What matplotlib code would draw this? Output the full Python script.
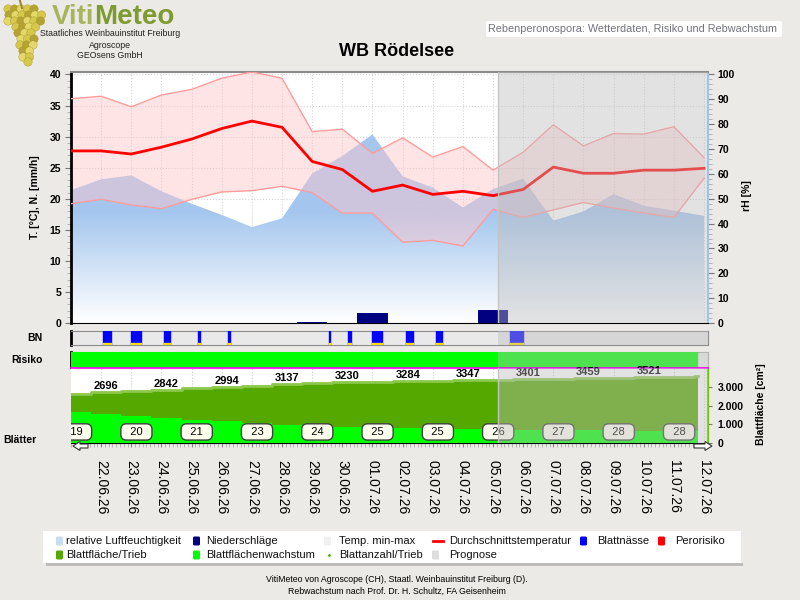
import numpy as np
import matplotlib
matplotlib.use('Agg')
from matplotlib import pyplot as plt
from matplotlib.colors import LinearSegmentedColormap
from matplotlib.patches import Rectangle, FancyBboxPatch, Circle, FancyArrow

plt.rcParams['font.family'] = ['Liberation Sans', 'DejaVu Sans']

# --- data (x = days after 21.06.26) ---
days = np.arange(22)
date_labels = ['22.06.26', '23.06.26', '24.06.26', '25.06.26', '26.06.26', '27.06.26',
               '28.06.26', '29.06.26', '30.06.26', '01.07.26', '02.07.26', '03.07.26',
               '04.07.26', '05.07.26', '06.07.26', '07.07.26', '08.07.26', '09.07.26',
               '10.07.26', '11.07.26', '12.07.26']

t_mean = [27.7, 27.7, 27.2, 28.3, 29.6, 31.3, 32.5, 31.5, 26.0, 24.7, 21.2,
          22.2, 20.7, 21.2, 20.5, 21.5, 25.1, 24.1, 24.1, 24.6, 24.6, 24.9]
t_max = [36.1, 36.5, 34.8, 36.7, 37.6, 39.4, 40.4, 39.4, 30.8, 31.2, 27.3,
         29.8, 26.7, 28.4, 24.6, 27.5, 31.9, 28.5, 30.5, 30.4, 31.6, 26.6]
t_min = [19.2, 19.9, 19.0, 18.4, 19.9, 21.1, 21.3, 22.0, 21.0, 17.7, 17.7,
         13.0, 13.3, 12.4, 18.3, 17.0, 18.2, 19.4, 18.5, 17.7, 17.0, 23.3]
rel_hum = [53.5, 57.8, 59.4, 53.0, 48.0, 43.5, 38.6, 42.1, 60.2, 67.2, 75.9,
           59.0, 54.5, 46.5, 53.9, 58.1, 41.2, 44.9, 51.9, 47.2, 45.2, 43.1]
precip = [0, 0, 0, 0, 0, 0, 0, 0, 0.15, 0, 1.6,
          0, 0, 0, 2.1, 0, 0, 0, 0, 0, 0, 0]

# leaf wetness periods (start, duration) in days
leaf_wet = [(1.06, 0.27), (1.99, 0.33), (3.08, 0.20), (4.21, 0.07), (5.21, 0.06),
            (8.56, 0.04), (9.19, 0.10), (9.98, 0.34), (11.11, 0.23), (12.11, 0.20),
            (14.56, 0.43)]
risk_end = 20.76
prognose_start = 14.16

leaf_area = [2620, 2696, 2770, 2842, 2918, 2994, 3066, 3137, 3184, 3230, 3257,
             3284, 3316, 3347, 3374, 3401, 3430, 3459, 3490, 3521, 3545, 3560]
leaf_growth = [1640, 1570, 1440, 1340, 1250, 1180, 1090, 985, 895, 865, 820,
               780, 750, 730, 720, 700, 690, 680, 670, 660, 650, 650]
leaf_count = [19, 20, 21, 23, 24, 25, 25, 26, 27, 28, 28]

XMAX = 21.13
BG = '#eceae6'
OVER = dict(color='#bcbcbc', alpha=0.42, lw=0, zorder=10)

fig = plt.figure(figsize=(8, 6), dpi=100, facecolor=BG)


def px_axes(x0, y0, x1, y1):
    return fig.add_axes([x0 / 800, 1 - y1 / 600, (x1 - x0) / 800, (y1 - y0) / 600])


# --- main weather panel ---
ax = px_axes(71, 72, 708, 323)
ax.set_facecolor('white')
ax.set_axisbelow(True)

hum = np.array(rel_hum) * 0.4
hum_poly = ax.fill_between(days, 0, hum, color='none', lw=0)
grad = np.clip(np.linspace(0, 40.4, 400) / 18.0, 0, 1)[:, None]
cmap_h = LinearSegmentedColormap.from_list('hum', ['#ffffff', '#a4c6ee'])
img = ax.imshow(grad, extent=[0, XMAX, 0, 40.4], origin='lower', aspect='auto',
                cmap=cmap_h, vmin=0, vmax=1, zorder=1)
img.set_clip_path(hum_poly.get_paths()[0], ax.transData)

ax.fill_between(days, t_min, t_max, color='#ffc4c9', alpha=0.45, lw=0, zorder=2)
ax.plot(days, t_max, color='#ff9c9c', lw=1, zorder=3)
ax.plot(days, t_min, color='#ff9c9c', lw=1, zorder=3)
ax.bar(days, precip, width=1.0, color='#000080', zorder=3)
ax.plot(days, t_mean, color='#ff0000', lw=2, zorder=4)
ax.axvspan(prognose_start, XMAX, **OVER)
ax.axvline(prognose_start, color='#c4c4c4', lw=1, zorder=10)

ax.set_xlim(0, XMAX)
ax.set_ylim(0, 40.4)
ax.set_xticks(days[1:])
ax.set_xticklabels([])
ax.tick_params(axis='x', length=0)
ax.set_yticks(range(0, 41, 5))
ax.set_yticklabels([str(v) for v in range(0, 41, 5)], fontweight='bold', fontsize=7.5)
ax.set_yticks(range(0, 41), minor=True)
ax.tick_params(axis='y', which='major', length=4, color='#777777', pad=3)
ax.tick_params(axis='y', which='minor', length=3, color='#aaaaaa')
ax.grid(True, ls=':', color='#d6d6d6', lw=0.8)
ax.spines['left'].set_linewidth(2)
ax.spines['left'].set_color('black')
ax.spines['top'].set_color('#8a8a8a')
ax.spines['top'].set_linewidth(1.5)
ax.spines['right'].set_visible(False)
ax.spines['bottom'].set_color('black')

sec = ax.secondary_yaxis('right', functions=(lambda t: t * 2.5, lambda r: r / 2.5))
sec.set_yticks(range(0, 101, 10))
sec.set_yticklabels([str(v) for v in range(0, 101, 10)], fontweight='bold', fontsize=7.5)
sec.set_yticks(range(0, 101, 2), minor=True)
sec.tick_params(which='major', length=4, color='#777777', pad=3)
sec.tick_params(which='minor', length=3, color='#aaaaaa')
sec.spines['right'].set_color('#9cc4ee')
sec.spines['right'].set_linewidth(1.5)

# --- leaf wetness strip ---
bn = px_axes(71, 331, 708, 345)
bn.set_facecolor('#e9e9e9')
bn.broken_barh(leaf_wet, (0, 1), color='#0000ff', zorder=3)
bn.broken_barh(leaf_wet, (0, 0.13), color='#ffe000', zorder=4)
bn.axvspan(prognose_start, XMAX, **OVER)
bn.set_xlim(0, XMAX)
bn.set_ylim(0, 1)
bn.set_xticks([])
bn.set_yticks([])
for s in bn.spines.values():
    s.set_color('#8c8c8c')
bn.spines['left'].set_color('black')
bn.spines['left'].set_linewidth(2)

# --- risk strip ---
rk = px_axes(71, 352, 708, 367)
rk.set_facecolor('#eeeeee')
rk.broken_barh([(0, risk_end)], (0, 1), color='#00ff00', zorder=3)
rk.axvspan(prognose_start, XMAX, **OVER)
rk.set_xlim(0, XMAX)
rk.set_ylim(0, 1)
rk.set_xticks([])
rk.set_yticks([])
for s in rk.spines.values():
    s.set_color('#b0b0b0')
rk.spines['left'].set_color('black')
rk.spines['left'].set_linewidth(2)

# --- leaf growth panel ---
lf = px_axes(71, 368, 708, 443)
lf.set_facecolor('white')
lf.set_axisbelow(True)
starts = np.clip(days - 0.33, 0, None)
xs = np.append(starts, 20.8)
area_s = np.append(leaf_area, leaf_area[-1])
growth_s = np.append(leaf_growth, leaf_growth[-1])
lf.fill_between(xs, 0, area_s, step='post', color='#55a800', lw=0, zorder=2)
lf.step(xs, area_s, where='post', color='#8cc84b', lw=2, zorder=2.5)
lf.fill_between(xs, 0, growth_s, step='post', color='#00ff00', lw=0, zorder=3)

for i in range(1, 20, 2):
    lf.text(i + 0.17, leaf_area[i] + 60, str(leaf_area[i]), ha='center', va='bottom',
            fontsize=8, fontweight='bold', zorder=6)

for k, n in enumerate(leaf_count):
    lf.text(2 * k + 0.17, 590, f'  {n}  ', ha='center', va='center', fontsize=8,
            zorder=6, clip_on=True,
            bbox=dict(boxstyle='round,pad=0.28,rounding_size=0.5', fc='#fffff0',
                      ec='#404040', lw=1))

lf.axvspan(prognose_start, XMAX, **OVER)
lf.axvline(prognose_start, color='#c4c4c4', lw=1, zorder=10)

lf.set_xlim(0, XMAX)
lf.set_ylim(0, 4000)
lf.set_xticks(days[1:])
lf.set_xticklabels(date_labels, rotation=-90, fontsize=10)
lf.set_xticks(np.arange(0, XMAX, 0.125), minor=True)
lf.tick_params(axis='x', which='major', length=3, color='#888888', pad=9)
lf.tick_params(axis='x', which='minor', length=3, color='#aaaaaa')
lf.grid(True, axis='x', ls=':', color='#cccccc', lw=0.8)
lf.yaxis.tick_right()
lf.set_yticks([0, 1000, 2000, 3000])
lf.set_yticklabels(['0', '1.000', '2.000', '3.000'], fontweight='bold', fontsize=7.5)
lf.tick_params(axis='y', length=3, color='#777777', pad=4)
lf.spines['top'].set_color('#ff00ff')
lf.spines['top'].set_linewidth(1.2)
lf.spines['right'].set_color('#66cc00')
lf.spines['right'].set_linewidth(1.5)
lf.spines['left'].set_visible(False)
lf.spines['bottom'].set_color('black')

# --- decorations in pixel coordinates ---
deco = fig.add_axes([0, 0, 1, 1])
deco.set_xlim(0, 800)
deco.set_ylim(600, 0)
deco.axis('off')

# grape cluster of the logo
deco.plot([20, 22], [1, 8], color='#9a8a30', lw=1.5)
rows = [(9, 4, 42), (15, 3, 45), (21, 4, 44), (27, 10, 42), (33, 14, 39),
        (39, 15, 38), (45, 16, 37), (51, 17, 35), (57, 19, 33), (62, 22, 29)]
for r, (yy, xa, xb) in enumerate(rows):
    for j, xx in enumerate(np.arange(xa + 4, xb - 2, 6.5)):
        col = ['#d6c84a', '#b4a232', '#e4d86a'][(r + j) % 3]
        deco.add_patch(Circle((xx + (r % 2) * 2, yy), 4.2, fc=col, ec='#a89a30', lw=0.3))

t1 = deco.text(52, 17, 'Viti', fontsize=20, fontweight='bold', color='#a9b45c',
               va='center', ha='left')
deco.annotate('Meteo', xy=(1, 0), xycoords=t1, va='bottom', ha='left',
              fontsize=20, fontweight='bold', color='#7d9b2f')
deco.text(110, 34, 'Staatliches Weinbauinstitut Freiburg', ha='center', va='center',
          fontsize=6.3, color='#222222')
deco.text(110, 45, 'Agroscope', ha='center', va='center', fontsize=6.3, color='#222222')
deco.text(110, 56, 'GEOsens GmbH', ha='center', va='center', fontsize=6.3, color='#222222')

deco.text(397, 52, 'WB Rödelsee', ha='center', va='center', fontsize=13, fontweight='bold')
deco.add_patch(FancyBboxPatch((486, 21), 296, 16, boxstyle='round,pad=0,rounding_size=2',
                              fc='white', ec='none'))
deco.text(633, 29.5, 'Rebenperonospora: Wetterdaten, Risiko und Rebwachstum',
          ha='center', va='center', fontsize=7.8, color='#72727e')

# axis labels
deco.text(35, 197, 'T. [°C], N. [mm/h]', rotation=90, ha='center', va='center',
          fontsize=7.5, fontweight='bold')
deco.text(747, 196, 'rH [%]', rotation=90, ha='center', va='center',
          fontsize=7.5, fontweight='bold')
deco.text(761, 404, 'Blattfläche [cm²]', rotation=90, ha='center', va='center',
          fontsize=7.5, fontweight='bold')
deco.text(43, 338, 'BN', ha='right', va='center', fontsize=7.5, fontweight='bold')
deco.text(43, 360, 'Risiko', ha='right', va='center', fontsize=7.5, fontweight='bold')
deco.text(3, 440, 'Blätter', ha='left', va='center', fontsize=7.5, fontweight='bold')

# axis end arrows
deco.add_patch(FancyArrow(88, 446, -15, 0, width=4, head_width=9, head_length=7,
                          length_includes_head=True, fc='white', ec='#333333', lw=0.8))
deco.add_patch(FancyArrow(694, 446, 18, 0, width=4, head_width=9, head_length=7,
                          length_includes_head=True, fc='white', ec='#333333', lw=0.8))

# legend
deco.add_patch(Rectangle((46, 563), 697, 3, fc='#a8a8a8', ec='none', alpha=0.7))
deco.add_patch(Rectangle((43, 531), 698, 32, fc='white', ec='none'))
legend_items = [
    (57, 541, 'box', '#c8dcf4', 'relative Luftfeuchtigkeit', 66),
    (194, 541, 'box', '#000080', 'Niederschläge', 206),
    (325, 541, 'box', '#f0f0f0', 'Temp. min-max', 339),
    (433, 541, 'line', '#ff0000', 'Durchschnittstemperatur', 449),
    (581, 541, 'box', '#0000ff', 'Blattnässe', 597),
    (659, 541, 'box', '#ff0000', 'Perorisiko', 675),
    (57, 555, 'box', '#55a800', 'Blattfläche/Trieb', 66),
    (194, 555, 'box', '#00ff00', 'Blattflächenwachstum', 206),
    (325, 555, 'dot', '#55a800', 'Blattanzahl/Trieb', 339),
    (433, 555, 'box', '#dddddd', 'Prognose', 449),
]
for xi, yi, kind, col, label, xt in legend_items:
    if kind == 'box':
        deco.add_patch(FancyBboxPatch((xi - 1, yi - 4.5), 7, 9, boxstyle='round,pad=0,rounding_size=1.5',
                                      fc=col, ec='none'))
    elif kind == 'line':
        deco.plot([xi, xi + 10], [yi, yi], color=col, lw=2)
    else:
        deco.plot([xi + 4], [yi], marker='.', ms=2, color=col)
    deco.text(xt, yi, label, ha='left', va='center', fontsize=8, color='#111111')

deco.text(397, 579, 'VitiMeteo von Agroscope (CH), Staatl. Weinbauinstitut Freiburg (D).',
          ha='center', va='center', fontsize=6.3)
deco.text(397, 591, 'Rebwachstum nach Prof. Dr. H. Schultz, FA Geisenheim',
          ha='center', va='center', fontsize=6.3)

fig.savefig('out.png', dpi=100, facecolor=BG)
